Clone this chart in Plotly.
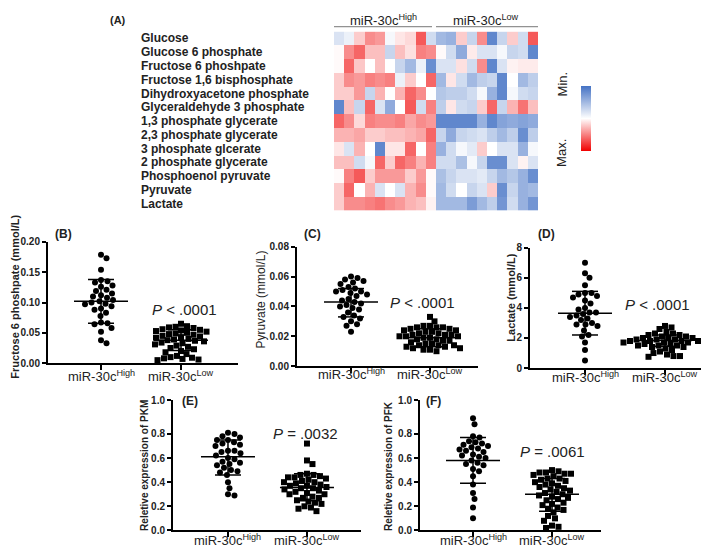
import plotly.graph_objects as go

W, H = 709, 548
FONT = "Arial, Liberation Sans, sans-serif"

# ---------------- heatmap data (level: + = Max / red, - = Min / blue) -------------
metabolites = ["Glucose", "Glucose 6 phosphate", "Fructose 6 phoshpate", "Fructose 1,6 bisphosphate",
               "Dihydroxyacetone phosphate", "Glyceraldehyde 3 phosphate", "1,3 phosphate glycerate",
               "2,3 phosphate glycerate", "3 phosphate glcerate", "2 phosphate glycerate",
               "Phosphoenol pyruvate", "Pyruvate", "Lactate"]
heat_high = [
    [-0.2, -0.1, 0.2, 0.45, 0.4, -0.05, 0.1, 0.15, 0.65, -0.25],
    [0.02, 0.45, 0.6, 0.25, 0.25, -0.3, 0.25, 0.12, 0.5, 0.45],
    [0.02, 0.6, 0.22, 0.0, 0.25, 0.0, -0.3, -0.5, -0.1, -0.8],
    [0.2, 0.45, 0.4, 0.5, 0.45, 0.5, -0.1, 0.2, 0.0, 0.6],
    [0.2, 0.2, 0.4, -0.3, 0.3, 0.0, 0.3, 0.6, 0.45, 0.0],
    [-0.85, 0.25, -0.3, 0.6, -0.2, -0.6, 0.0, 0.65, -0.25, 0.5],
    [0.6, 0.45, 0.15, 0.5, 0.45, 0.45, 0.5, 0.35, 0.45, 0.4],
    [0.3, 0.3, 0.35, 0.2, 0.2, 0.25, 0.25, 0.3, 0.35, 0.6],
    [0.1, -0.2, 0.3, 0.0, -0.85, 0.1, 0.1, 0.6, 0.0, 0.5],
    [0.25, 0.25, -0.25, -0.05, 0.6, 0.2, 0.6, 0.5, 0.3, 0.5],
    [0.02, 0.5, 0.65, 0.2, 0.4, 0.4, 0.4, 0.2, 0.4, 0.02],
    [0.2, 0.6, 0.0, 0.3, -0.2, 0.0, -0.2, 0.3, 0.45, 0.02],
    [0.2, 0.45, 0.45, 0.5, 0.55, 0.45, 0.4, 0.3, 0.25, 0.05],
]
heat_low = [
    [-0.5, -0.55, 0.2, -0.3, 0.45, -0.85, -0.3, 0.2, -0.25, 0.65],
    [0.02, -0.25, -0.6, 0.08, -0.2, -0.2, -0.05, -0.3, -0.25, -0.85],
    [-0.2, -0.2, 0.12, -0.25, 0.45, -0.85, -0.2, 0.05, 0.08, 0.08],
    [-0.5, 0.1, -0.25, -0.5, -0.35, -0.3, -0.85, 0.0, -0.5, -0.35],
    [-0.4, -0.35, -0.35, -0.25, -0.05, -0.55, -0.85, -0.05, -0.25, -0.3],
    [-0.35, 0.1, -0.25, -0.3, 0.2, 0.6, -0.3, 0.3, 0.55, 0.25],
    [-0.85, -0.85, -0.85, -0.85, -0.55, -0.85, -0.65, -0.6, -0.65, -0.6],
    [-0.3, -0.6, -0.3, -0.25, -0.2, -0.35, -0.5, -0.35, -0.8, -0.35],
    [-0.55, -0.25, -0.05, -0.15, 0.2, 0.0, -0.2, -0.2, -0.55, -0.05],
    [-0.25, -0.25, -0.45, -0.05, -0.3, -0.8, -0.8, -0.2, 0.05, -0.2],
    [-0.45, -0.3, -0.2, -0.2, -0.15, -0.3, -0.5, -0.4, -0.55, -0.8],
    [-0.5, -0.25, 0.0, -0.3, -0.2, 0.2, -0.8, -0.3, -0.55, -0.5],
    [-0.5, -0.5, -0.5, -0.7, -0.5, -0.35, -0.75, -0.25, -0.55, -0.75],
]
group_labels = ["miR-30c<sup>High</sup>", "miR-30c<sup>Low</sup>"]

# ---------------- scatter panel data -------------
b_high = [0.179, 0.173, 0.154, 0.137, 0.135, 0.133, 0.128, 0.126, 0.121, 0.119, 0.115, 0.112, 0.110,
          0.108, 0.104, 0.102, 0.100, 0.098, 0.097, 0.094, 0.090, 0.088, 0.083, 0.078, 0.067, 0.066,
          0.064, 0.058, 0.052, 0.038, 0.033]
b_low = [0.065, 0.061, 0.060, 0.059, 0.058, 0.056, 0.055, 0.054, 0.053, 0.052, 0.050, 0.049, 0.048,
         0.047, 0.045, 0.044, 0.043, 0.042, 0.040, 0.039, 0.038, 0.037, 0.036, 0.034, 0.033, 0.031,
         0.029, 0.027, 0.025, 0.023, 0.020, 0.018, 0.015, 0.012, 0.010, 0.009, 0.008, 0.007, 0.006, 0.005]
c_high = [0.060, 0.059, 0.058, 0.057, 0.056, 0.055, 0.053, 0.052, 0.051, 0.050, 0.050, 0.049, 0.048,
          0.047, 0.045, 0.044, 0.043, 0.042, 0.041, 0.040, 0.039, 0.038, 0.036, 0.034, 0.033, 0.032,
          0.030, 0.028, 0.027, 0.023]
c_low = [0.033, 0.030, 0.027, 0.027, 0.026, 0.026, 0.026, 0.025, 0.025, 0.024, 0.024, 0.023, 0.023,
         0.022, 0.022, 0.021, 0.021, 0.021, 0.020, 0.020, 0.020, 0.019, 0.019, 0.018, 0.018, 0.017,
         0.017, 0.016, 0.015, 0.015, 0.014, 0.014, 0.014, 0.013, 0.013, 0.012, 0.012, 0.011, 0.011, 0.010]
d_high = [7.0, 6.3, 6.0, 5.5, 5.0, 5.0, 4.9, 4.8, 4.7, 4.5, 4.3, 4.0, 3.9, 3.7, 3.7, 3.6, 3.5, 3.4,
          3.3, 3.2, 3.0, 2.9, 2.9, 2.8, 2.5, 2.2, 2.1, 1.7, 1.2, 0.5]
d_low = [2.8, 2.7, 2.6, 2.4, 2.3, 2.3, 2.2, 2.2, 2.1, 2.1, 2.0, 2.0, 2.0, 1.9, 1.9, 1.9, 1.8, 1.8,
         1.8, 1.8, 1.7, 1.7, 1.7, 1.7, 1.6, 1.6, 1.6, 1.5, 1.5, 1.5, 1.4, 1.4, 1.3, 1.2, 1.1, 1.0,
         0.9, 0.8, 0.8, 0.75]
e_high = [0.81, 0.80, 0.78, 0.77, 0.75, 0.75, 0.73, 0.72, 0.71, 0.70, 0.66, 0.66, 0.65, 0.64, 0.62,
          0.60, 0.59, 0.57, 0.56, 0.55, 0.54, 0.52, 0.50, 0.49, 0.48, 0.46, 0.40, 0.35, 0.30, 0.29]
e_low = [0.72, 0.58, 0.55, 0.47, 0.46, 0.46, 0.45, 0.44, 0.44, 0.43, 0.42, 0.41, 0.40, 0.40, 0.39,
         0.38, 0.37, 0.37, 0.36, 0.35, 0.35, 0.34, 0.33, 0.32, 0.31, 0.30, 0.30, 0.28, 0.27, 0.27,
         0.25, 0.24, 0.23, 0.22, 0.20, 0.19, 0.18, 0.16]
f_high = [0.93, 0.88, 0.78, 0.77, 0.74, 0.73, 0.72, 0.71, 0.70, 0.69, 0.68, 0.67, 0.66, 0.65, 0.63,
          0.62, 0.61, 0.60, 0.58, 0.56, 0.55, 0.54, 0.51, 0.49, 0.45, 0.38, 0.31, 0.26, 0.19, 0.10]
f_low = [0.50, 0.49, 0.48, 0.48, 0.47, 0.47, 0.46, 0.45, 0.43, 0.43, 0.42, 0.41, 0.40, 0.39, 0.38,
         0.37, 0.36, 0.35, 0.34, 0.33, 0.32, 0.31, 0.30, 0.29, 0.28, 0.27, 0.26, 0.25, 0.23, 0.22,
         0.21, 0.19, 0.18, 0.17, 0.15, 0.12, 0.10, 0.08, 0.04, 0.03, 0.02]

# mean and SD limits: [mean, lower, upper]
b_stats = [[0.102, 0.066, 0.138], [0.038, 0.021, 0.055]]
c_stats = [[0.043, 0.033, 0.052], [0.019, 0.013, 0.025]]
d_stats = [[3.65, 2.2, 5.1], [1.84, 1.45, 2.2]]
e_stats = [[0.61, 0.46, 0.75], [0.355, 0.245, 0.47]]
f_stats = [[0.58, 0.39, 0.77], [0.30, 0.16, 0.43]]

p_texts = ["<i>P</i> < .0001", "<i>P</i> < .0001", "<i>P</i> < .0001", "<i>P</i> = .0032", "<i>P</i> = .0061"]
y_titles = ["Fructose 6 phoshpate (mmol/L)", "Pyruvate (mmol/L)", "Lactate (mmol/L)",
            "Reletive expression of PKM", "Reletive expression of PFK"]
panel_letters = ["(B)", "(C)", "(D)", "(E)", "(F)"]

b_ticks = [0, 0.05, 0.10, 0.15, 0.20]
b_ticktext = ["0.00", "0.05", "0.10", "0.15", "0.20"]
c_ticks = [0, 0.02, 0.04, 0.06, 0.08]
c_ticktext = ["0.00", "0.02", "0.04", "0.06", "0.08"]
d_ticks = [0, 2, 4, 6, 8]
d_ticktext = ["0", "2", "4", "6", "8"]
ef_ticktext = ["0.0", "0.2", "0.4", "0.6", "0.8", "1.0"]

# ---------------- layout geometry (pixels) ----------------
def px_x(p): return p / W
def px_y(p): return 1 - p / H

panels = [
    dict(x=(40, 230), y=(233, 357), xr=(0.3375, 2.7125), yr=(0, 0.20), tv=b_ticks, tt=b_ticktext,
         data=(b_high, b_low), stats=b_stats, ptxt=(176, 302), ytitle=(7, 289, True, 11),
         letter=(55, 225), xlab_y=370),
    dict(x=(289, 470), y=(238, 360), xr=(0.316, 2.608), yr=(0, 0.08), tv=c_ticks, tt=c_ticktext,
         data=(c_high, c_low), stats=c_stats, ptxt=(414, 295), ytitle=(253, 292, False, 12),
         letter=(304, 225), xlab_y=368),
    dict(x=(522, 708), y=(239, 362), xr=(0.3125, 2.6375), yr=(0, 8), tv=d_ticks, tt=d_ticktext,
         data=(d_high, d_low), stats=d_stats, ptxt=(649, 297), ytitle=(503, 290, True, 11),
         letter=(538, 225), xlab_y=371),
    dict(x=(165, 353), y=(395, 528), xr=(0.304, 2.684), yr=(0, 1.078),
         tv=[0, 0.2, 0.4, 0.6, 0.8, 1.078], tt=ef_ticktext,
         data=(e_high, e_low), stats=e_stats, ptxt=(297, 429), ytitle=(137, 462, True, 10),
         letter=(182, 396), xlab_y=538),
    dict(x=(412, 593), y=(395, 528), xr=(0.329, 2.620), yr=(0, 1.078),
         tv=[0, 0.2, 0.4, 0.6, 0.8, 1.078], tt=ef_ticktext,
         data=(f_high, f_low), stats=f_stats, ptxt=(544, 447), ytitle=(381, 462, True, 10),
         letter=(426, 396), xlab_y=538),
]


def swarm(vals, ppu_y, d):
    """simple beeswarm: x offsets in pixels"""
    order = sorted(range(len(vals)), key=lambda i: -vals[i])
    placed = []
    xs = [0.0] * len(vals)
    cands = [0.0]
    for k in range(1, 200):
        cands += [k * 0.5, -k * 0.5]
    for i in order:
        y = vals[i] * ppu_y
        for c in cands:
            if all((c - px) ** 2 + (y - py) ** 2 >= d * d for px, py in placed):
                break
        placed.append((c, y))
        xs[i] = c
    return xs


fig = go.Figure()
annotations = []
shapes = []
layout_axes = {}

for idx, p in enumerate(panels):
    n = idx + 1
    xa = "x" if n == 1 else f"x{n}"
    ya = "y" if n == 1 else f"y{n}"
    ppu_x = (p["x"][1] - p["x"][0]) / (p["xr"][1] - p["xr"][0])
    ppu_y = (p["y"][1] - p["y"][0]) / (p["yr"][1] - p["yr"][0])
    for g, vals in enumerate(p["data"]):
        offs = swarm(vals, ppu_y, 6.3)
        fig.add_trace(go.Scatter(
            x=[g + 1 + o / ppu_x for o in offs], y=vals, mode="markers",
            marker=dict(symbol="circle" if g == 0 else "square", size=6, color="black",
                        line=dict(width=0)),
            xaxis=xa, yaxis=ya, showlegend=False, cliponaxis=False, hoverinfo="y"))
        mean, lo, hi = p["stats"][g]
        hw_mean = 27 / ppu_x
        hw_cap = 13 / ppu_x
        cx = g + 1
        lstyle = dict(color="black", width=1.5)
        shapes.append(dict(type="line", xref=xa, yref=ya, x0=cx - hw_mean, x1=cx + hw_mean,
                           y0=mean, y1=mean, line=lstyle))
        shapes.append(dict(type="line", xref=xa, yref=ya, x0=cx, x1=cx, y0=lo, y1=hi, line=lstyle))
        for v in (lo, hi):
            shapes.append(dict(type="line", xref=xa, yref=ya, x0=cx - hw_cap, x1=cx + hw_cap,
                               y0=v, y1=v, line=lstyle))
        lab_px = p["x"][0] + (cx - p["xr"][0]) * ppu_x
        annotations.append(dict(x=px_x(lab_px), y=px_y(p["xlab_y"]), xref="paper", yref="paper",
                                text=group_labels[g], showarrow=False, xanchor="center",
                                yanchor="middle", font=dict(family=FONT, size=13, color="#222")))
    key_x = "xaxis" if n == 1 else f"xaxis{n}"
    key_y = "yaxis" if n == 1 else f"yaxis{n}"
    layout_axes[key_x] = dict(
        domain=[px_x(p["x"][0]), px_x(p["x"][1])], range=list(p["xr"]), anchor=ya,
        tickvals=[1, 2], showticklabels=False, showline=True, linecolor="black", linewidth=2,
        ticks="outside", ticklen=5, tickwidth=2, tickcolor="black", showgrid=False, zeroline=False,
        fixedrange=True)
    layout_axes[key_y] = dict(
        domain=[px_y(p["y"][1]), px_y(p["y"][0])], range=list(p["yr"]), anchor=xa,
        tickvals=p["tv"], ticktext=p["tt"], showline=True, linecolor="black", linewidth=2,
        ticks="outside", ticklen=4, tickwidth=2, tickcolor="black", showgrid=False, zeroline=False,
        tickfont=dict(family=FONT, size=10, color="#222", weight="bold"), fixedrange=True)
    annotations.append(dict(x=px_x(p["ptxt"][0]), y=px_y(p["ptxt"][1]), xref="paper", yref="paper",
                            text=p_texts[idx], showarrow=False, xanchor="center", yanchor="middle",
                            font=dict(family=FONT, size=15, color="#222")))
    tx, ty, bold, fs = p["ytitle"]
    annotations.append(dict(x=px_x(tx), y=px_y(ty), xref="paper", yref="paper",
                            text=y_titles[idx], showarrow=False, textangle=-90,
                            xanchor="center", yanchor="middle",
                            font=dict(family=FONT, size=fs, color="#222",
                                      weight="bold" if bold else "normal")))
    annotations.append(dict(x=px_x(p["letter"][0]), y=px_y(p["letter"][1]), xref="paper", yref="paper",
                            text=panel_letters[idx], showarrow=False, xanchor="center", yanchor="middle",
                            font=dict(family=FONT, size=12, color="#222", weight="bold")))

# ---------------- heatmap ----------------
z = [[-v for v in (heat_high[r] + heat_low[r])] for r in range(len(metabolites))]
fig.add_trace(go.Heatmap(
    z=z, x=list(range(20)), y=metabolites, xaxis="x6", yaxis="y6",
    zmin=-1, zmax=1,
    colorscale=[[0, "rgb(240,0,0)"], [0.5, "rgb(255,255,255)"], [1, "rgb(68,114,196)"]],
    colorbar=dict(x=px_x(563), xanchor="left", y=px_y(150), yanchor="bottom",
                  len=87 / H, lenmode="fraction", thickness=10, outlinewidth=0,
                  showticklabels=False, ticks=""),
    hoverinfo="skip"))
layout_axes["xaxis6"] = dict(domain=[px_x(326), px_x(530)], anchor="y6", visible=False,
                             range=[-0.5, 19.5], fixedrange=True)
layout_axes["yaxis6"] = dict(domain=[px_y(201), px_y(18)], anchor="x6", visible=False,
                             autorange="reversed", fixedrange=True)

row_h = (201 - 18) / len(metabolites)
for i, m in enumerate(metabolites):
    annotations.append(dict(x=px_x(131), y=px_y(18 + row_h * (i + 0.5)), xref="paper", yref="paper",
                            text=m, showarrow=False, xanchor="left", yanchor="middle",
                            font=dict(family=FONT, size=12, color="#222", weight="bold")))
annotations.append(dict(x=px_x(110), y=px_y(6), xref="paper", yref="paper", text="(A)",
                        showarrow=False, xanchor="center", yanchor="middle",
                        font=dict(family=FONT, size=11, color="#222", weight="bold")))
for lab, cx in zip(group_labels, (376, 478)):
    annotations.append(dict(x=px_x(cx), y=px_y(6), xref="paper", yref="paper", text=lab,
                            showarrow=False, xanchor="center", yanchor="middle",
                            font=dict(family=FONT, size=13, color="#222")))
for x0, x1 in ((326, 424), (428, 530)):
    shapes.append(dict(type="line", xref="paper", yref="paper", x0=px_x(x0), x1=px_x(x1),
                       y0=px_y(13), y1=px_y(13), line=dict(color="#777", width=1)))
for txt, yy in (("Min.", 72), ("Max.", 142)):
    annotations.append(dict(x=px_x(554), y=px_y(yy), xref="paper", yref="paper", text=txt,
                            showarrow=False, textangle=-90, xanchor="center", yanchor="middle",
                            font=dict(family=FONT, size=13, color="#222")))

fig.update_layout(width=W, height=H, margin=dict(l=0, r=0, t=0, b=0),
                  paper_bgcolor="white", plot_bgcolor="white",
                  annotations=annotations, shapes=shapes, showlegend=False, **layout_axes)
fig.write_html("out.html")
